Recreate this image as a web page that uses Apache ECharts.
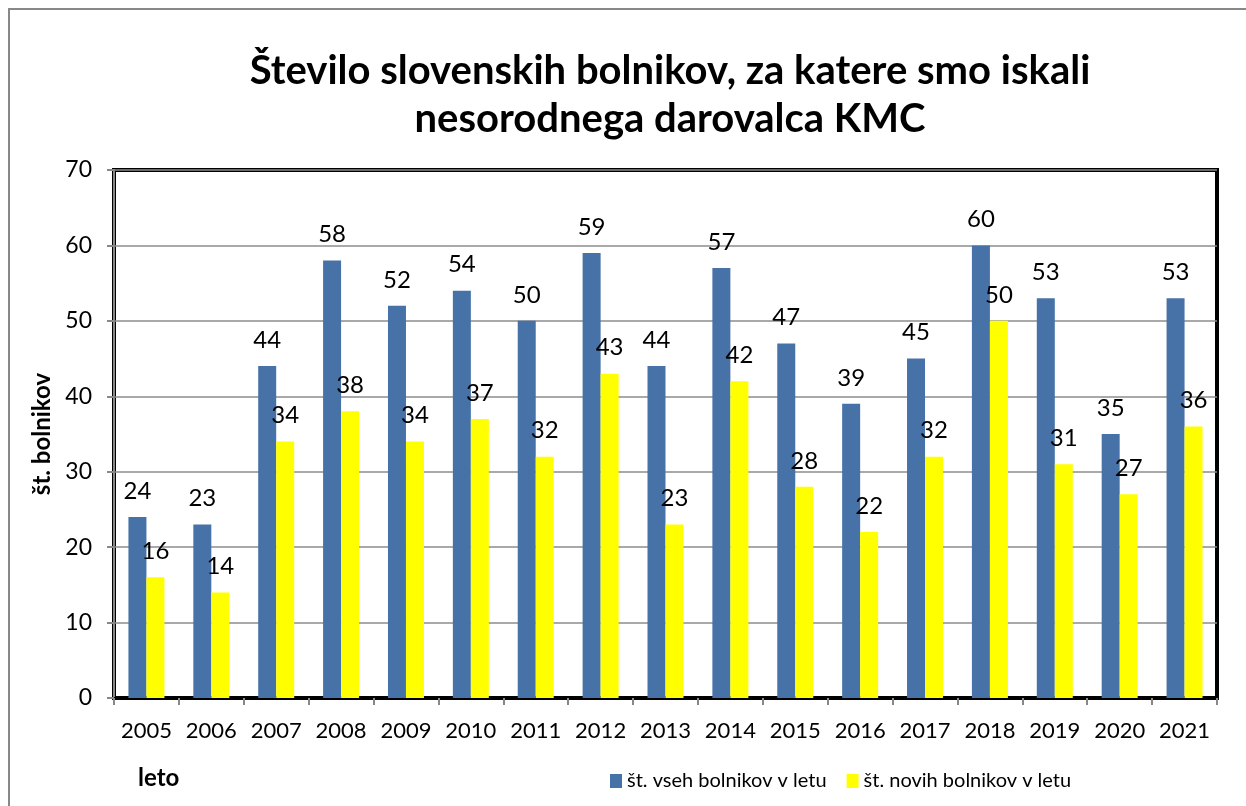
<!DOCTYPE html>
<html>
<head>
<meta charset="utf-8">
<script src="https://cdn.jsdelivr.net/npm/echarts@6/dist/echarts.min.js"></script>
<style>
  html, body { margin: 0; padding: 0; background: #fff; }
  #chart { width: 1246px; height: 806px; }
</style>
</head>
<body>
<div id="chart"></div>
<script>
// leta
const years = ['2005', '2006', '2007', '2008', '2009', '2010', '2011', '2012', '2013',
  '2014', '2015', '2016', '2017', '2018', '2019', '2020', '2021'];
// vsi bolniki v letu
const allPatients = [24, 23, 44, 58, 52, 54, 50, 59, 44, 57, 47, 39, 45, 60, 53, 35, 53];
// novi bolniki v letu
const newPatients = [16, 14, 34, 38, 34, 37, 32, 43, 23, 42, 28, 22, 32, 50, 31, 27, 36];

const font = 'Lato, "Open Sans", sans-serif';

const chart = echarts.init(document.getElementById('chart'), null, { renderer: 'canvas' });

const labelStyle = {
  show: true,
  position: 'top',
  distance: 14,
  color: '#000',
  fontSize: 24,
  fontFamily: font
};

const option = {
  backgroundColor: '#fff',
  animation: false,
  title: [
    {
      text: 'Število slovenskih bolnikov, za katere smo iskali\nnesorodnega darovalca KMC',
      left: 665,
      top: 42,
      textAlign: 'center',
      textStyle: {
        fontFamily: font,
        fontSize: 40,
        fontWeight: 'bold',
        color: '#000',
        lineHeight: 48
      }
    },
    {
      text: 'leto',
      left: 133,
      top: 761,
      textStyle: {
        fontFamily: font,
        fontSize: 24,
        fontWeight: 'bold',
        color: '#000'
      }
    }
  ],
  legend: {
    left: 605,
    top: 766,
    itemWidth: 12,
    itemHeight: 14,
    itemGap: 20,
    icon: 'rect',
    textStyle: { fontFamily: font, fontSize: 20, color: '#000' },
    data: ['št. vseh bolnikov v letu', 'št. novih bolnikov v letu']
  },
  grid: {
    left: 114,
    right: 29,
    top: 170,
    bottom: 108,
    show: true,
    borderColor: '#000',
    borderWidth: 4
  },
  xAxis: {
    type: 'category',
    data: years,
    axisLine: { show: true, lineStyle: { color: '#000', width: 3 } },
    axisTick: { show: true, length: 7, lineStyle: { color: '#888', width: 2 } },
    axisLabel: { interval: 0, margin: 22, color: '#000', fontSize: 22, fontFamily: font }
  },
  yAxis: {
    type: 'value',
    min: 0,
    max: 70,
    interval: 10,
    name: 'št. bolnikov',
    nameLocation: 'middle',
    nameRotate: 90,
    nameGap: 60,
    nameTextStyle: { fontFamily: font, fontSize: 24, fontWeight: 'bold', color: '#000' },
    axisLine: { show: true, lineStyle: { color: '#888', width: 2 } },
    axisTick: { show: true, length: 7, lineStyle: { color: '#888', width: 2 } },
    axisLabel: { margin: 22, color: '#000', fontSize: 23, fontFamily: font },
    splitLine: { show: true, lineStyle: { color: '#8c8c8c', width: 1.5 } }
  },
  series: [
    {
      name: 'št. vseh bolnikov v letu',
      type: 'bar',
      data: allPatients,
      barWidth: 18,
      barGap: '0%',
      itemStyle: { color: '#4672A8' },
      label: labelStyle
    },
    {
      name: 'št. novih bolnikov v letu',
      type: 'bar',
      data: newPatients,
      barWidth: 18,
      itemStyle: { color: '#FFFF00' },
      label: labelStyle
    }
  ],
  graphic: [
    {
      type: 'rect',
      silent: true,
      shape: { x: 9, y: 9, width: 1260, height: 820 },
      style: { fill: 'none', stroke: '#888', lineWidth: 2 }
    }
  ]
};

chart.setOption(option);
</script>
</body>
</html>
